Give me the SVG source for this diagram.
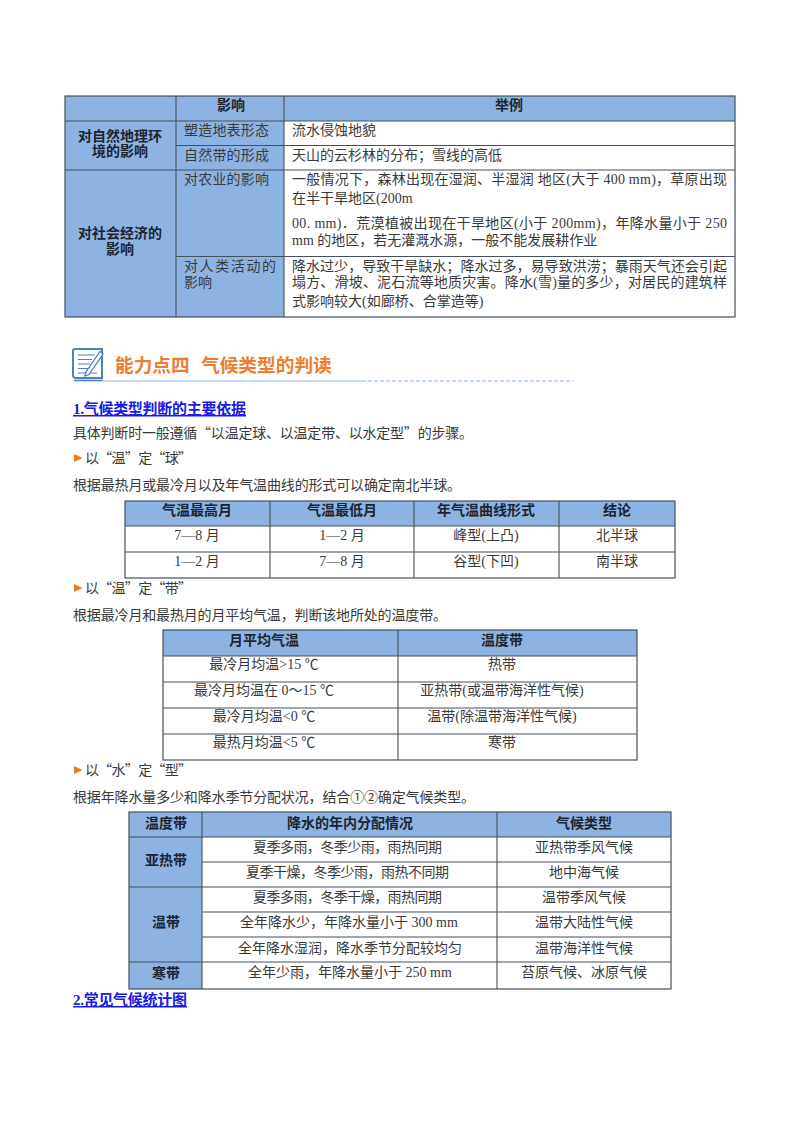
<svg xmlns="http://www.w3.org/2000/svg" width="800" height="1132" viewBox="0 0 800 1132">
<style>
text{font-family:"Liberation Serif","Noto Sans CJK SC",serif;font-size:14px;fill:#3a3a3a}
.q{font-family:"Noto Sans CJK SC",sans-serif}
.b{font-weight:700;fill:#1c2430;text-anchor:middle}
.c{text-anchor:middle}
.h{fill:#8db3e2}
.l{stroke:#46505c;stroke-width:1.1;fill:none}
.o{stroke:#46505c;stroke-width:1.2;fill:none}
.u{font-weight:700;fill:#1a1ae6;text-decoration:underline;font-size:15px}
.t{font-weight:700;fill:#ed7d31;font-size:18.7px;font-family:"Noto Sans CJK SC",sans-serif}
.a{fill:#ed7d1a}
</style>
<rect width="800" height="1132" fill="#fff"/>

<g id="table-impact">
<rect class="h" x="65" y="96" width="670" height="25"/>
<rect class="h" x="65" y="121" width="219" height="196"/>
<path class="l" d="M65 121H735M176 145.500H735M65 170H735M176 256.500H735M176 96V317M284 96V317"/>
<rect class="o" x="65" y="96" width="670" height="221"/>
<text class="b" x="231" y="110">影响</text>
<text class="b" x="509" y="110">举例</text>
<text class="b" x="120" y="141">对自然地理环</text>
<text class="b" x="120" y="156">境的影响</text>
<text class="b" x="120" y="238">对社会经济的</text>
<text class="b" x="120" y="254">影响</text>
<text x="184" y="135" textLength="85">塑造地表形态</text>
<text x="184" y="160" textLength="85">自然带的形成</text>
<text x="184" y="184" textLength="85">对农业的影响</text>
<text x="184" y="271" textLength="92">对人类活动的</text>
<text x="184" y="287">影响</text>
<text x="292" y="135">流水侵蚀地貌</text>
<text x="292" y="160">天山的云杉林的分布；雪线的高低</text>
<text x="292" y="184" textLength="435">一般情况下，森林出现在湿润、半湿润  地区(大于 400 mm)，草原出现</text>
<text x="292" y="203">在半干旱地区(200m</text>
<text x="292" y="228" textLength="435">00. mm)．荒漠植被出现在干旱地区(小于 200mm)，年降水量小于 250</text>
<text x="292" y="245">mm 的地区，若无灌溉水源，一般不能发展耕作业</text>
<text x="292" y="271" textLength="435">降水过少，导致干旱缺水；降水过多，易导致洪涝；暴雨天气还会引起</text>
<text x="292" y="287" textLength="435">塌方、滑坡、泥石流等地质灾害。降水(雪)量的多少，对居民的建筑样</text>
<text x="292" y="306">式影响较大(如廊桥、合掌造等)</text>
</g>

<g id="section-heading">
<path d="M75 349H102V378H76Q73 378 73 375V351Q73 349 75 349Z" fill="#fff" stroke="#4f81bd" stroke-width="2"/>
<path d="M74 380.500H103" stroke="#4f81bd" stroke-width="1.600"/>
<path d="M78 355H95M78 359.500H92M78 364H90M78 368.500H88M78 373H97" stroke="#4f81bd" stroke-width="1.100"/>
<polygon points="86,372 85,376 89,374.500 103,354 100,351.500" fill="#fff" stroke="#4f81bd" stroke-width="1.300"/>
<text class="t" x="115" y="372">能力点四</text>
<text class="t" x="201" y="372">气候类型的判读</text>
<path d="M103 381H367" stroke="#8db3e2" stroke-width="1.200"/>
<path d="M368 381H573" stroke="#8db3e2" stroke-width="1.200" stroke-dasharray="4 2"/>
</g>

<g id="body-text">
<text class="u" x="73" y="414" textLength="173">1.气候类型判断的主要依据</text>
<text x="73" y="438" textLength="400">具体判断时一般遵循<tspan class="q">“</tspan>以温定球、以温定带、以水定型<tspan class="q">”</tspan>的步骤。</text>
<polygon class="a" points="74,454 82.500,458 74,462"/>
<text x="85" y="463" textLength="107">以<tspan class="q">“</tspan>温<tspan class="q">”</tspan>定<tspan class="q">“</tspan>球<tspan class="q">”</tspan></text>
<text x="73" y="490" textLength="388">根据最热月或最冷月以及年气温曲线的形式可以确定南北半球。</text>
<polygon class="a" points="74,584 82.500,588 74,592"/>
<text x="85" y="593" textLength="107">以<tspan class="q">“</tspan>温<tspan class="q">”</tspan>定<tspan class="q">“</tspan>带<tspan class="q">”</tspan></text>
<text x="73" y="620" textLength="374">根据最冷月和最热月的月平均气温，判断该地所处的温度带。</text>
<polygon class="a" points="74,766 82.500,770 74,774"/>
<text x="85" y="775" textLength="107">以<tspan class="q">“</tspan>水<tspan class="q">”</tspan>定<tspan class="q">“</tspan>型<tspan class="q">”</tspan></text>
<text x="73" y="802" textLength="402">根据年降水量多少和降水季节分配状况，结合①②确定气候类型。</text>
<text class="u" x="73" y="1005" textLength="114">2.常见气候统计图</text>
</g>

<g id="table-hemisphere">
<rect class="h" x="125" y="501" width="550" height="25"/>
<path class="l" d="M125 526H675M125 552H675M270 501V578M414 501V578M559 501V578"/>
<rect class="o" x="125" y="501" width="550" height="77"/>
<text class="b" x="197" y="515">气温最高月</text>
<text class="b" x="342" y="515">气温最低月</text>
<text class="b" x="486" y="515">年气温曲线形式</text>
<text class="b" x="617" y="515">结论</text>
<text class="c" x="197" y="540">7—8 月</text>
<text class="c" x="342" y="540">1—2 月</text>
<text class="c" x="486" y="540">峰型(上凸)</text>
<text class="c" x="617" y="540">北半球</text>
<text class="c" x="197" y="566">1—2 月</text>
<text class="c" x="342" y="566">7—8 月</text>
<text class="c" x="486" y="566">谷型(下凹)</text>
<text class="c" x="617" y="566">南半球</text>
</g>

<g id="table-temperature-zone">
<rect class="h" x="163" y="630" width="474" height="26"/>
<path class="l" d="M163 656H637M163 682H637M163 708H637M163 734H637M398 630V760"/>
<rect class="o" x="163" y="630" width="474" height="130"/>
<text class="b" x="264" y="645">月平均气温</text>
<text class="b" x="502" y="645">温度带</text>
<text class="c" x="264" y="669">最冷月均温&gt;15 ℃</text>
<text class="c" x="502" y="669">热带</text>
<text class="c" x="264" y="695">最冷月均温在 0～15 ℃</text>
<text class="c" x="502" y="695">亚热带(或温带海洋性气候)</text>
<text class="c" x="264" y="721">最冷月均温&lt;0 ℃</text>
<text class="c" x="502" y="721">温带(除温带海洋性气候)</text>
<text class="c" x="264" y="747">最热月均温&lt;5 ℃</text>
<text class="c" x="502" y="747">寒带</text>
</g>

<g id="table-climate-type">
<rect class="h" x="129" y="812" width="542" height="25"/>
<rect class="h" x="129" y="837" width="73" height="152"/>
<path class="l" d="M129 837H671M202 862H671M129 887H671M202 912H671M202 937H671M129 962H671M202 812V989M497 812V989"/>
<rect class="o" x="129" y="812" width="542" height="177"/>
<text class="b" x="166" y="828">温度带</text>
<text class="b" x="350" y="828">降水的年内分配情况</text>
<text class="b" x="584" y="828">气候类型</text>
<text class="b" x="166" y="865">亚热带</text>
<text class="b" x="166" y="927">温带</text>
<text class="b" x="166" y="978">寒带</text>
<text x="253" y="852" textLength="189">夏季多雨，冬季少雨，雨热同期</text>
<text class="c" x="584" y="852">亚热带季风气候</text>
<text x="246" y="877" textLength="203">夏季干燥，冬季少雨，雨热不同期</text>
<text class="c" x="584" y="877">地中海气候</text>
<text x="253" y="902" textLength="189">夏季多雨，冬季干燥，雨热同期</text>
<text class="c" x="584" y="902">温带季风气候</text>
<text class="c" x="349" y="927">全年降水少，年降水量小于 300 mm</text>
<text class="c" x="584" y="927">温带大陆性气候</text>
<text class="c" x="350" y="953">全年降水湿润，降水季节分配较均匀</text>
<text class="c" x="584" y="953">温带海洋性气候</text>
<text class="c" x="350" y="977">全年少雨，年降水量小于 250 mm</text>
<text class="c" x="584" y="977">苔原气候、冰原气候</text>
</g>
</svg>
